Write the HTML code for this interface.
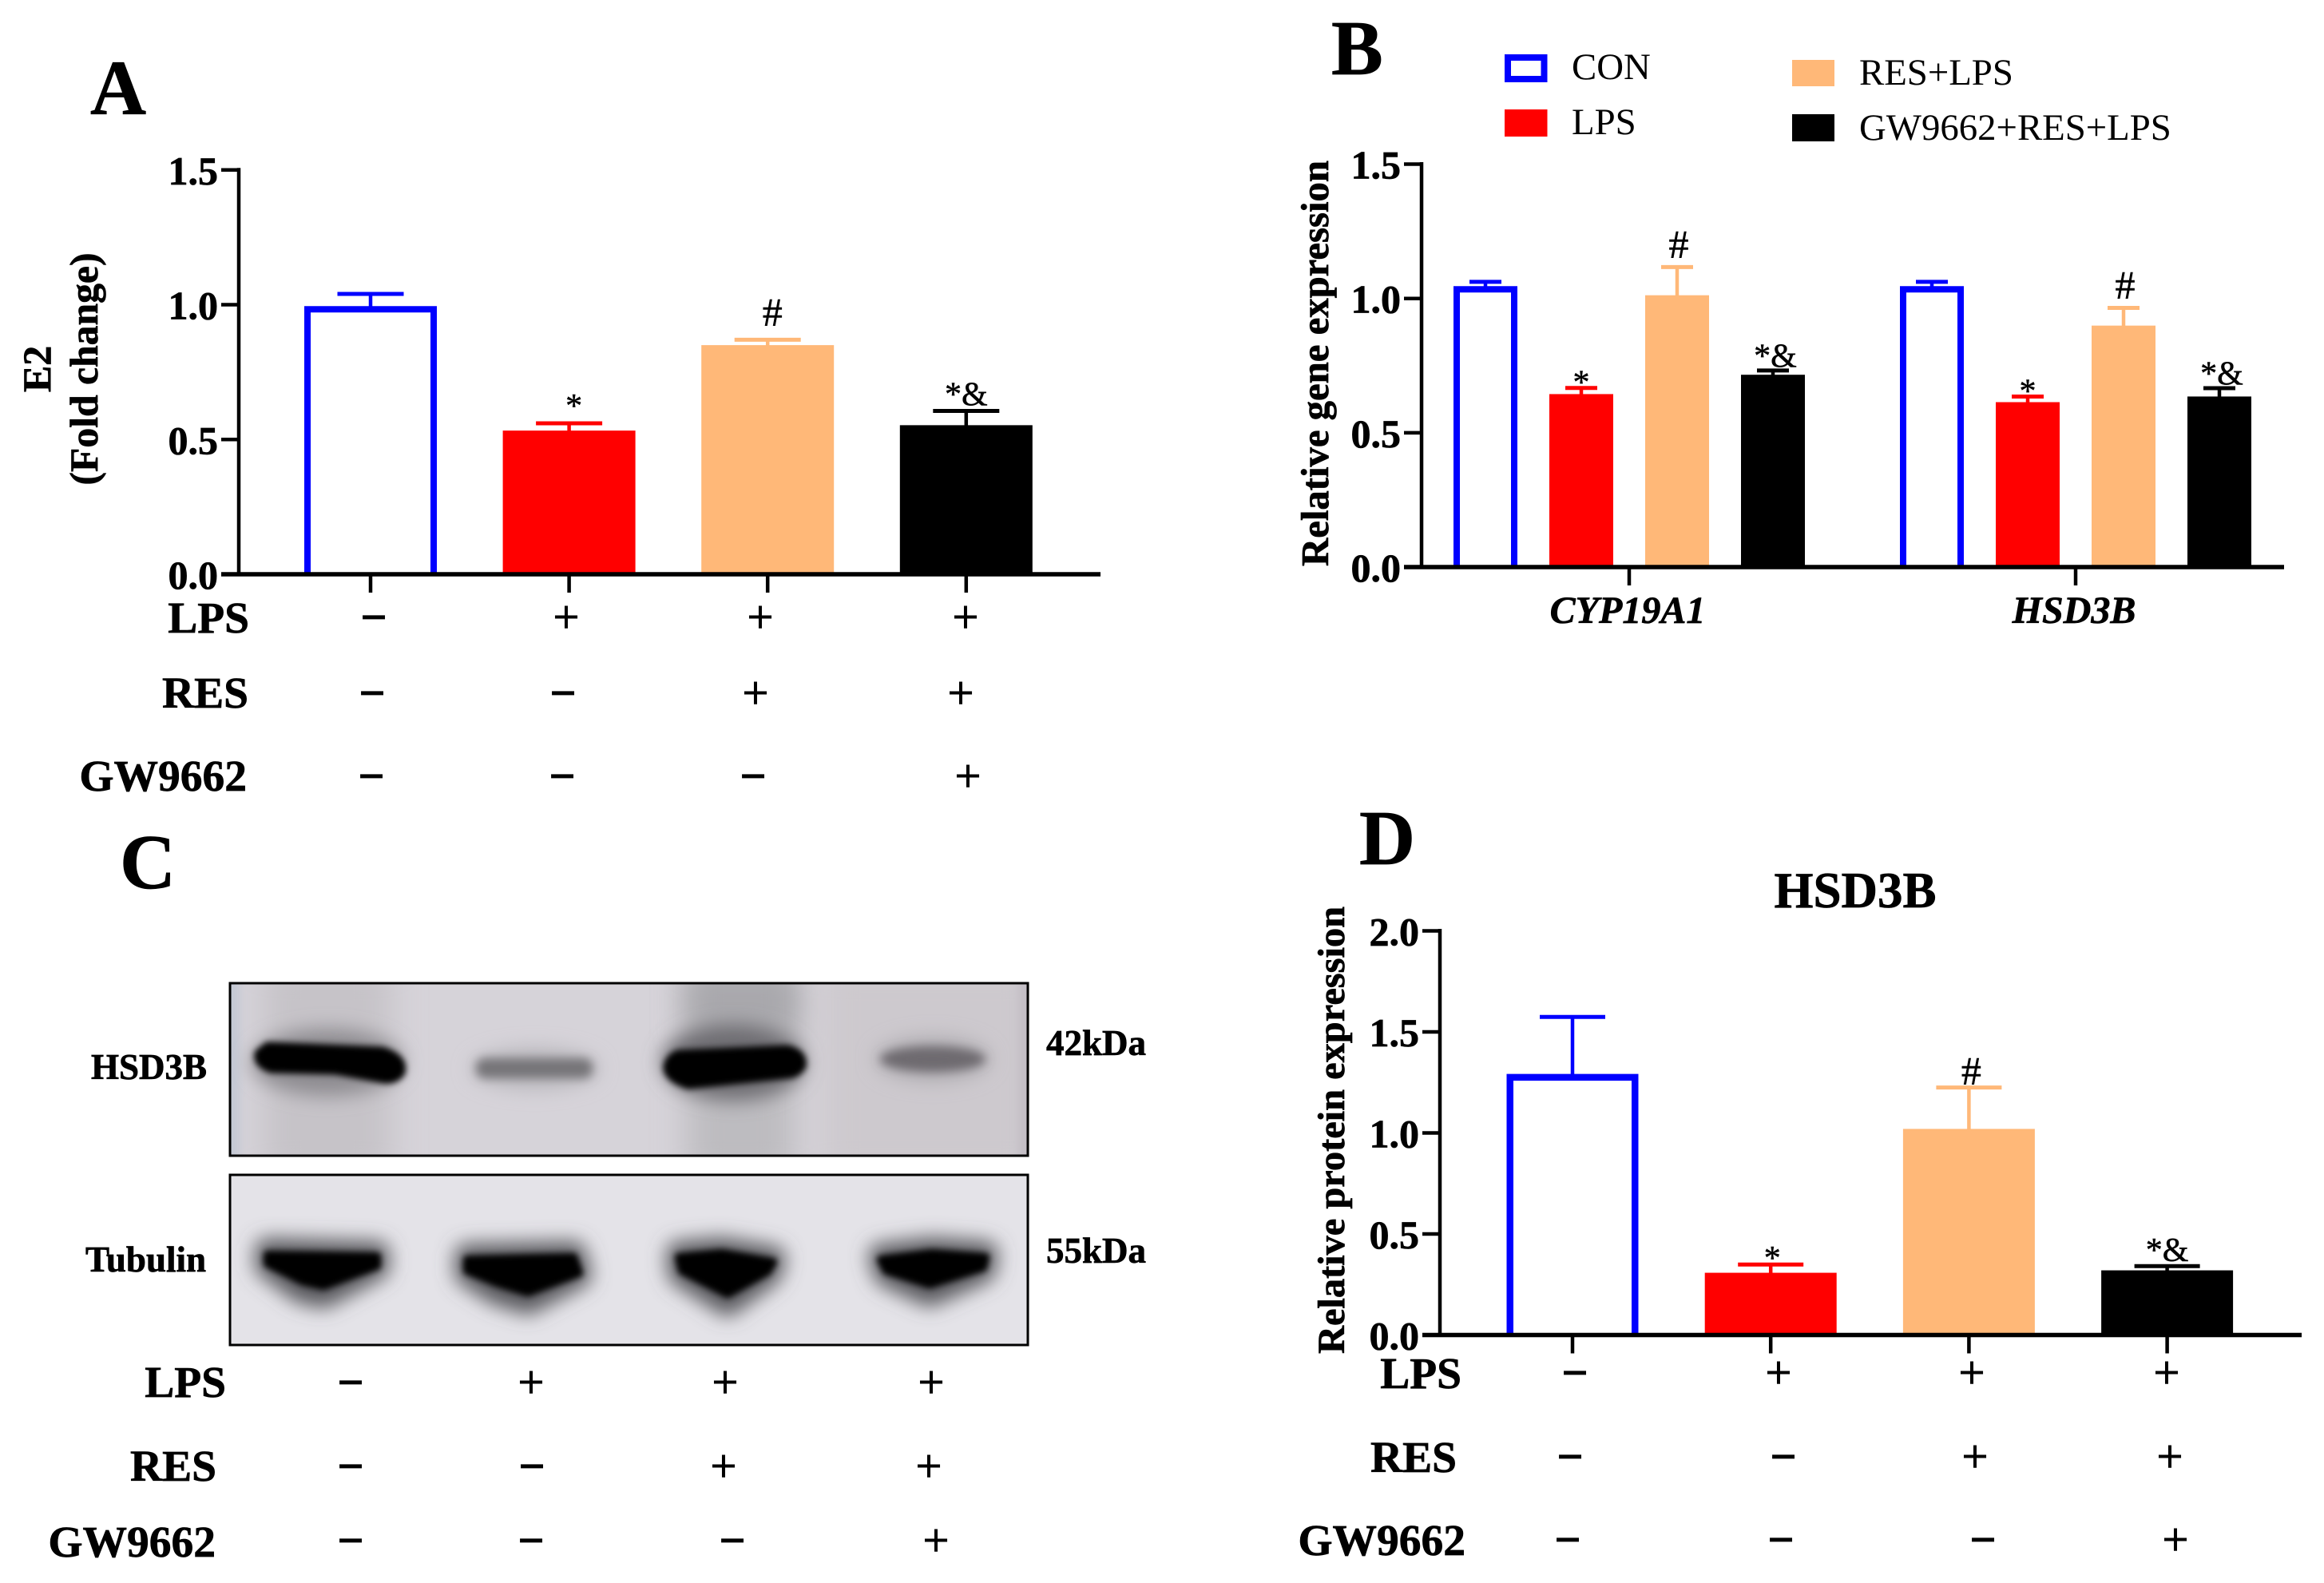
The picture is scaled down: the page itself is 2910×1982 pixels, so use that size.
<!DOCTYPE html>
<html lang="en">
<head>
<meta charset="utf-8">
<title>E2, gene and protein expression figure</title>
<style>
html,body{margin:0;padding:0;background:#fff;width:2910px;height:1982px;overflow:hidden}
svg{display:block}
text{font-family:"Liberation Serif",serif;fill:#000}
text[font-weight="bold"],.row-label,.blot-label,.panel-letter{stroke:#000;stroke-width:.7px}
.panel-letter{font-size:97px;font-weight:bold}
.row-label{font-size:55.5px;font-weight:bold;text-anchor:end}
.plus{font-size:58px;text-anchor:middle;stroke:#000;stroke-width:1.1px}
.minus{font-size:58px;font-weight:bold;text-anchor:middle;stroke:#000;stroke-width:1px}
.legend-text{font-size:46.8px}
.blot-label{font-size:45px;font-weight:bold}
.sig{stroke:#000;stroke-width:.5px}
</style>
</head>
<body>
<svg id="figure" xmlns="http://www.w3.org/2000/svg" width="2910" height="1982" viewBox="0 0 2910 1982">
<defs>
<filter id="blur4" filterUnits="userSpaceOnUse" x="200" y="1150" width="1200" height="620"><feGaussianBlur stdDeviation="4"/></filter>
<filter id="blur6" filterUnits="userSpaceOnUse" x="200" y="1150" width="1200" height="620"><feGaussianBlur stdDeviation="6"/></filter>
<filter id="blur12" filterUnits="userSpaceOnUse" x="200" y="1150" width="1200" height="620"><feGaussianBlur stdDeviation="12"/></filter>
<filter id="blur20" filterUnits="userSpaceOnUse" x="200" y="1150" width="1200" height="620"><feGaussianBlur stdDeviation="20"/></filter>
<clipPath id="clip-blot-top"><rect x="288" y="1231" width="999" height="216"/></clipPath>
<clipPath id="clip-blot-bottom"><rect x="288" y="1471" width="999" height="213"/></clipPath>
</defs>
<rect x="0" y="0" width="2910" height="1982" fill="#fff"/>

<text class="panel-letter" x="113" y="143">A</text>
<text class="panel-letter" x="1667" y="93">B</text>
<text class="panel-letter" x="150" y="1112">C</text>
<text class="panel-letter" x="1702" y="1082">D</text>

<g id="panel-a"></g>
<g id="panel-b"></g>
<g id="panel-d"></g>

<!-- Panel A titles and treatment table -->
<g>
<text transform="translate(63,462) rotate(-90)" text-anchor="middle" font-size="50" font-weight="bold">E2</text>
<text transform="translate(122,462) rotate(-90)" text-anchor="middle" font-size="50" font-weight="bold" textLength="291" lengthAdjust="spacingAndGlyphs">(Fold change)</text>
</g>
<g>
<text class="row-label" x="312" y="792">LPS</text>
<text class="row-label" x="311" y="886">RES</text>
<text class="row-label" x="309" y="990">GW9662</text>
<text class="minus" x="468" y="792">−</text>
<text class="plus" x="709" y="792">+</text>
<text class="plus" x="952" y="792">+</text>
<text class="plus" x="1209" y="792">+</text>
<text class="minus" x="466" y="887">−</text>
<text class="minus" x="705" y="887">−</text>
<text class="plus" x="946" y="887">+</text>
<text class="plus" x="1203" y="887">+</text>
<text class="minus" x="465" y="991">−</text>
<text class="minus" x="704" y="991">−</text>
<text class="minus" x="943" y="991">−</text>
<text class="plus" x="1212" y="991">+</text>
</g>

<!-- Panel B legend and title -->
<g>
<rect x="1888" y="72" width="45.5" height="27" fill="#fff" stroke="#0000ff" stroke-width="8"/>
<text class="legend-text" x="1968" y="99">CON</text>
<rect x="1884" y="137" width="53.5" height="34" fill="#ff0000"/>
<text class="legend-text" x="1968" y="168">LPS</text>
<rect x="2244" y="75" width="53" height="33" fill="#ffb878"/>
<text class="legend-text" x="2328" y="106">RES+LPS</text>
<rect x="2244" y="143" width="53" height="34" fill="#000"/>
<text class="legend-text" x="2328" y="175">GW9662+RES+LPS</text>
</g>
<text transform="translate(1663,455) rotate(-90)" text-anchor="middle" font-size="49" font-weight="bold" textLength="508" lengthAdjust="spacingAndGlyphs">Relative gene expression</text>

<!-- Panel C western blot -->
<g>
<g clip-path="url(#clip-blot-top)">
<rect x="288" y="1231" width="999" height="216" fill="#d6d3d9"/>
<rect x="280" y="1220" width="20" height="240" fill="#c3c8d4" filter="url(#blur6)"/>
<rect x="330" y="1205" width="160" height="270" fill="#c6c3c8" filter="url(#blur20)"/>
<rect x="860" y="1205" width="135" height="270" fill="#bdbcc0" filter="url(#blur20)"/>
<rect x="860" y="1215" width="140" height="80" fill="#a8a7ac" filter="url(#blur20)"/>
<rect x="1030" y="1205" width="270" height="270" fill="#cdc9ce" filter="url(#blur20)"/>
<rect x="1275" y="1220" width="25" height="240" fill="#c2bdc4" filter="url(#blur6)"/>
<ellipse cx="410" cy="1330" rx="95" ry="42" fill="#8e8c91" filter="url(#blur12)"/>
<ellipse cx="918" cy="1330" rx="90" ry="48" fill="#6e6d72" filter="url(#blur12)"/>
<ellipse cx="1168" cy="1326" rx="72" ry="28" fill="#b0adb2" filter="url(#blur12)"/>
<ellipse cx="670" cy="1338" rx="80" ry="26" fill="#bab8bd" filter="url(#blur12)"/>
<path d="M336 1312 L478 1318 Q504 1326 500 1342 Q492 1352 476 1348 L420 1338 L340 1336 Q324 1330 326 1320 Z" fill="#000" stroke="#000" stroke-width="15" stroke-linejoin="round" filter="url(#blur4)"/>
<rect x="596" y="1325" width="146" height="25" rx="11" fill="#767478" filter="url(#blur6)"/>
<path d="M850 1322 L985 1316 Q1004 1320 1002 1334 Q996 1343 985 1343 L862 1356 Q838 1348 838 1336 Q840 1326 850 1322 Z" fill="#000" stroke="#000" stroke-width="15" stroke-linejoin="round" filter="url(#blur4)"/>
<ellipse cx="1168" cy="1326" rx="66" ry="16" fill="#6e6b70" filter="url(#blur6)"/>
</g>
<rect x="288" y="1231" width="999" height="216" fill="none" stroke="#000" stroke-width="3"/>
<g clip-path="url(#clip-blot-bottom)">
<rect x="288" y="1471" width="999" height="213" fill="#e4e3e8"/>
<path d="M335 1566 L472 1570 L472 1586 L405 1622 L378 1616 L335 1584 Z" fill="#222" stroke="#5c5b60" stroke-width="32" stroke-linejoin="round" filter="url(#blur12)"/>
<path d="M585 1573 L718 1570 L725 1596 L661 1630 L622 1618 L585 1594 Z" fill="#222" stroke="#5c5b60" stroke-width="32" stroke-linejoin="round" filter="url(#blur12)"/>
<path d="M850 1570 L904 1565 L968 1576 L963 1594 L911 1632 L852 1594 Z" fill="#222" stroke="#5c5b60" stroke-width="32" stroke-linejoin="round" filter="url(#blur12)"/>
<path d="M1103 1573 L1167 1565 L1234 1570 L1231 1590 L1164 1620 L1110 1595 Z" fill="#222" stroke="#5c5b60" stroke-width="32" stroke-linejoin="round" filter="url(#blur12)"/>
<path d="M335 1571 L472 1573 L472 1585 L405 1610 L379 1604 L335 1582 Z" fill="#000" stroke="#000" stroke-width="10" stroke-linejoin="round" filter="url(#blur4)"/>
<path d="M585 1577 L718 1574 L725 1594 L661 1618 L622 1606 L585 1591 Z" fill="#000" stroke="#000" stroke-width="10" stroke-linejoin="round" filter="url(#blur4)"/>
<path d="M850 1574 L904 1569 L968 1580 L961 1592 L911 1620 L854 1591 Z" fill="#000" stroke="#000" stroke-width="10" stroke-linejoin="round" filter="url(#blur4)"/>
<path d="M1103 1577 L1167 1569 L1234 1574 L1231 1587 L1164 1608 L1110 1591 Z" fill="#000" stroke="#000" stroke-width="10" stroke-linejoin="round" filter="url(#blur4)"/>
</g>
<rect x="288" y="1471" width="999" height="213" fill="none" stroke="#000" stroke-width="3"/>
<text class="blot-label" x="114" y="1351">HSD3B</text>
<text class="blot-label" x="107" y="1592">Tubulin</text>
<text class="blot-label" x="1310" y="1321">42kDa</text>
<text class="blot-label" x="1310" y="1581">55kDa</text>
</g>
<g>
<text class="row-label" x="283" y="1749">LPS</text>
<text class="row-label" x="271" y="1854">RES</text>
<text class="row-label" x="270" y="1949">GW9662</text>
<text class="minus" x="439" y="1750">−</text>
<text class="plus" x="665" y="1750">+</text>
<text class="plus" x="908" y="1750">+</text>
<text class="plus" x="1166" y="1750">+</text>
<text class="minus" x="439" y="1855">−</text>
<text class="minus" x="666" y="1855">−</text>
<text class="plus" x="906" y="1855">+</text>
<text class="plus" x="1163" y="1855">+</text>
<text class="minus" x="439" y="1948">−</text>
<text class="minus" x="665" y="1948">−</text>
<text class="minus" x="917" y="1948">−</text>
<text class="plus" x="1172" y="1948">+</text>
</g>

<!-- Panel D titles and treatment table -->
<text x="2323" y="1136" text-anchor="middle" font-size="63" font-weight="bold">HSD3B</text>
<text transform="translate(1683,1415) rotate(-90)" text-anchor="middle" font-size="48" font-weight="bold" textLength="560" lengthAdjust="spacingAndGlyphs">Relative protein expression</text>
<g>
<text class="row-label" x="1830" y="1738">LPS</text>
<text class="row-label" x="1824" y="1843">RES</text>
<text class="row-label" x="1835" y="1947">GW9662</text>
<text class="minus" x="1972" y="1738">−</text>
<text class="plus" x="2227" y="1738">+</text>
<text class="plus" x="2469" y="1738">+</text>
<text class="plus" x="2713" y="1738">+</text>
<text class="minus" x="1966" y="1843">−</text>
<text class="minus" x="2233" y="1843">−</text>
<text class="plus" x="2473" y="1843">+</text>
<text class="plus" x="2717" y="1843">+</text>
<text class="minus" x="1963" y="1947">−</text>
<text class="minus" x="2230" y="1947">−</text>
<text class="minus" x="2483" y="1947">−</text>
<text class="plus" x="2724" y="1947">+</text>
</g>
</svg>

<script>
// ---- Panel A data ----
const aGroups = ['CON', 'LPS', 'RES+LPS', 'GW9662+RES+LPS'];
const aMeans = [0.995, 0.533, 0.85, 0.553];
const aErrors = [0.045, 0.027, 0.02, 0.053];
const aMarks = ['', '*', '#', '*&'];
const aTickValues = [0, 0.5, 1, 1.5];
const aTickLabels = ['0.0', '0.5', '1.0', '1.5'];

// ---- Panel B data ----
const bGenes = ['CYP19A1', 'HSD3B'];
const bSeries = ['CON', 'LPS', 'RES+LPS', 'GW9662+RES+LPS'];
const bCon = [1.046, 1.046];
const bConErr = [0.016, 0.016];
const bLps = [0.644, 0.614];
const bLpsErr = [0.023, 0.021];
const bRes = [1.012, 0.899];
const bResErr = [0.105, 0.066];
const bGw = [0.716, 0.635];
const bGwErr = [0.016, 0.031];
const bMarks = ['', '*', '#', '*&'];
const bTickValues = [0, 0.5, 1, 1.5];
const bTickLabels = ['0.0', '0.5', '1.0', '1.5'];

// ---- Panel D data ----
const dGroups = ['CON', 'LPS', 'RES+LPS', 'GW9662+RES+LPS'];
const dMeans = [1.292, 0.308, 1.02, 0.32];
const dErrors = [0.282, 0.041, 0.205, 0.021];
const dMarks = ['', '*', '#', '*&'];
const dTickValues = [0, 0.5, 1, 1.5, 2];
const dTickLabels = ['0.0', '0.5', '1.0', '1.5', '2.0'];

const seriesColors = ['#0000ff', '#ff0000', '#ffb878', '#000000'];
const NS = 'http://www.w3.org/2000/svg';

function make(parent, tag, attrs, txt) {
  const el = document.createElementNS(NS, tag);
  for (const k in attrs) el.setAttribute(k, attrs[k]);
  if (txt !== undefined) el.textContent = txt;
  parent.appendChild(el);
  return el;
}

function drawBar(g, left, width, value, err, colorIdx, yOf, o) {
  const color = seriesColors[colorIdx];
  const top = yOf(value);
  const errTop = yOf(value + err);
  const cx = left + width / 2;
  const stem = make(g, 'line', { x1: cx, x2: cx, y1: top + 1, y2: errTop, stroke: color, 'stroke-width': 4.5 });
  
  
  const cap = make(g, 'line', { x1: cx - o.capW / 2, x2: cx + o.capW / 2, y1: errTop, y2: errTop, stroke: color, 'stroke-width': 5 });
  
  
  let bar;
  if (colorIdx === 0) {
    const s = o.wall;
    bar = make(g, 'path', {
      d: 'M' + (left + s / 2) + ' ' + o.y0 + ' V' + (top + s / 2) + ' H' + (left + width - s / 2) + ' V' + o.y0,
      fill: 'none', stroke: color, 'stroke-width': s
    });
  } else {
    bar = make(g, 'rect', { x: left, y: top, width: width, height: o.y0 - top, fill: color });
  }
  
  
  return errTop;
}

function drawMark(g, symbol, cx, errTop, o) {
  if (!symbol) return;
  const t = make(g, 'text', {
    x: cx + o.markDx[symbol], y: errTop - o.markGap[symbol],
    'text-anchor': 'middle', 'font-size': symbol === '#' ? 50 : o.markSize, 'class': 'sig'
  }, symbol);
  
  
}

function drawAxes(g, tickValues, tickLabels, yOf, o) {
  const yAxis = make(g, 'line', { x1: o.axisX, x2: o.axisX, y1: yOf(tickValues[tickValues.length - 1]) - 2.5, y2: o.y0, stroke: '#000', 'stroke-width': 4.5 });
  
  
  const xAxis = make(g, 'line', { x1: o.axisX - 22, x2: o.axisEnd, y1: o.y0, y2: o.y0, stroke: '#000', 'stroke-width': 5.5 });
  
  
  tickValues.forEach(function (v, i) {
    const y = yOf(v);
    const tick = make(g, 'line', { x1: o.axisX - 22, x2: o.axisX, y1: y, y2: y, stroke: '#000', 'stroke-width': 4.5 });
    
    
    const label = make(g, 'text', {
      x: o.axisX - 26, y: y + 18, 'text-anchor': 'end', 'font-size': 50, 'font-weight': 'bold'
    }, tickLabels[i]);
    
    
  });
  o.xTicks.forEach(function (x) {
    const tick = make(g, 'line', { x1: x, x2: x, y1: o.y0, y2: o.y0 + 23, stroke: '#000', 'stroke-width': 4.5 });
    
    
  });
}

function drawSingleSeries(id, means, errors, marks, tickValues, tickLabels, o) {
  const g = document.getElementById(id);
  const yOf = function (v) { return o.y0 - v * o.unit; };
  const xOf = function (i) { return o.firstBar + i * o.step; };
  o.xTicks = means.map(function (_, i) { return xOf(i) + o.barW / 2; });
  means.forEach(function (m, i) {
    const errTop = drawBar(g, xOf(i), o.barW, m, errors[i], i, yOf, o);
    drawMark(g, marks[i], xOf(i) + o.barW / 2, errTop, o);
  });
  drawAxes(g, tickValues, tickLabels, yOf, o);
}

drawSingleSeries('panel-a', aMeans, aErrors, aMarks, aTickValues, aTickLabels, {
  axisX: 299, axisEnd: 1378, y0: 719, unit: 337.5, firstBar: 381, step: 248.6, barW: 166,
  capW: 83, wall: 8, markSize: 42,
  markGap: { '*': 8, '#': 18, '*&': 7 }, markDx: { '*': 6, '#': 6, '*&': 0 }
});

drawSingleSeries('panel-d', dMeans, dErrors, dMarks, dTickValues, dTickLabels, {
  axisX: 1803, axisEnd: 2882, y0: 1671.5, unit: 253, firstBar: 1886.5, step: 248.2, barW: 165,
  capW: 82, wall: 8.5, markSize: 42,
  markGap: { '*': -6, '#': 4, '*&': 6 }, markDx: { '*': 2, '#': 3, '*&': 0 }
});

(function drawPanelB() {
  const g = document.getElementById('panel-b');
  const o = {
    axisX: 1780, axisEnd: 2860, y0: 710, unit: 336.3, capW: 40, wall: 8, markSize: 42,
    markGap: { '*': -7, '#': 12, '*&': 4.5 }, markDx: { '*': 0, '#': 2, '*&': 3 }
  };
  const groupStart = 1820, groupStep = 559, barStep = 120, barW = 80;
  const yOf = function (v) { return o.y0 - v * o.unit; };
  const means = [bCon, bLps, bRes, bGw];
  const errs = [bConErr, bLpsErr, bResErr, bGwErr];
  o.xTicks = [];
  bGenes.forEach(function (gene, gi) {
    const gx = groupStart + gi * groupStep;
    const center = gx + (bSeries.length - 1) * barStep / 2 + barW / 2;
    o.xTicks.push(center);
    bSeries.forEach(function (s, si) {
      const left = gx + si * barStep;
      const errTop = drawBar(g, left, barW, means[si][gi], errs[si][gi], si, yOf, o);
      drawMark(g, bMarks[si], left + barW / 2, errTop, o);
    });
    const label = make(g, 'text', {
      x: center - 2, y: 780, 'text-anchor': 'middle', 'font-size': 48,
      'font-weight': 'bold', 'font-style': 'italic'
    }, gene);
    
    
  });
  drawAxes(g, bTickValues, bTickLabels, yOf, o);
})();
</script>
</body>
</html>
